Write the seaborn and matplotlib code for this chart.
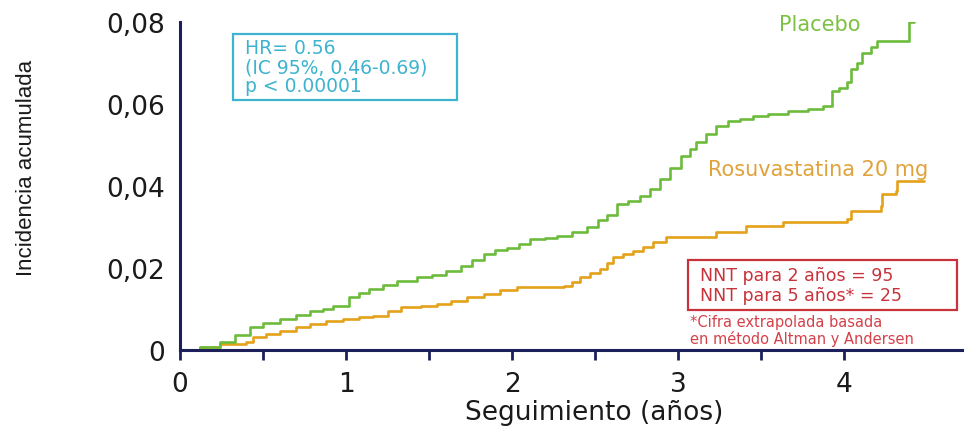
import numpy as np
import pandas as pd
import matplotlib
matplotlib.use("Agg")
import matplotlib.pyplot as plt
from matplotlib.patches import Rectangle
import seaborn as sns

# ---------------- data ----------------
placebo_t = [0, 0.12, 0.24, 0.33, 0.42, 0.5, 0.6, 0.7, 0.78, 0.86,
             0.92, 1.02, 1.08, 1.14, 1.22, 1.31, 1.43, 1.52, 1.6, 1.69,
             1.76, 1.83, 1.9, 1.97, 2.04, 2.11, 2.2, 2.27, 2.36, 2.45,
             2.52, 2.57, 2.63, 2.7, 2.77, 2.83, 2.89, 2.95, 3.02, 3.07,
             3.11, 3.17, 3.23, 3.3, 3.37, 3.45, 3.54, 3.66, 3.78, 3.87,
             3.93, 3.97, 4.02, 4.04, 4.08, 4.11, 4.16, 4.20, 4.39, 4.42]
placebo_v = [0, 0.0008, 0.002, 0.0036, 0.0056, 0.0066, 0.0076, 0.0086, 0.0095, 0.0101,
             0.0107, 0.0129, 0.0139, 0.0149, 0.0158, 0.0168, 0.0178, 0.0182, 0.0192, 0.0205,
             0.0220, 0.0234, 0.0243, 0.0250, 0.0259, 0.0270, 0.0274, 0.0278, 0.0288, 0.0300,
             0.0316, 0.0330, 0.0356, 0.0364, 0.0376, 0.0392, 0.0417, 0.0445, 0.0473, 0.0490,
             0.0508, 0.0528, 0.0547, 0.0558, 0.0564, 0.0570, 0.0576, 0.0582, 0.0588, 0.0596,
             0.0632, 0.0640, 0.0654, 0.0686, 0.0700, 0.0725, 0.0740, 0.0754, 0.0800, 0.0800]

rosu_t = [0, 0.12, 0.24, 0.4, 0.44, 0.52, 0.6, 0.7, 0.78, 0.88,
          0.98, 1.08, 1.16, 1.25, 1.33, 1.45, 1.55, 1.63, 1.73, 1.83,
          1.93, 2.03, 2.31, 2.36, 2.41, 2.47, 2.53, 2.57, 2.61, 2.67,
          2.73, 2.79, 2.85, 2.93, 3.01, 3.23, 3.41, 3.63, 4.02, 4.04,
          4.22, 4.23, 4.31, 4.32, 4.48]
rosu_v = [0, 0.0008, 0.0015, 0.002, 0.0032, 0.0038, 0.0046, 0.0055, 0.0063, 0.0070,
          0.0076, 0.0080, 0.0083, 0.0094, 0.0105, 0.0107, 0.0113, 0.0120, 0.0129, 0.0137,
          0.0146, 0.0154, 0.0156, 0.0166, 0.0178, 0.0188, 0.0198, 0.0212, 0.0227, 0.0235,
          0.0242, 0.0252, 0.0263, 0.0276, 0.0276, 0.0288, 0.0303, 0.0312, 0.0320, 0.0340,
          0.0351, 0.0380, 0.0388, 0.0412, 0.0412]

series_names = ["Placebo", "Rosuvastatina 20 mg"]
y_ticks = [0, 0.02, 0.04, 0.06, 0.08]
y_tick_labels = ["0", "0,02", "0,04", "0,06", "0,08"]
x_ticks = [0, 1, 2, 3, 4]
x_tick_labels = ["0", "1", "2", "3", "4"]
x_minor_ticks = [0.5, 1.5, 2.5, 3.5]

hr_lines = ["HR= 0.56", "(IC 95%, 0.46-0.69)", "p < 0.00001"]
nnt_lines = ["NNT para 2 años = 95", "NNT para 5 años* = 25"]
note_lines = ["*Cifra extrapolada basada", "en método Altman y Andersen"]

df = pd.concat([
    pd.DataFrame({"t": placebo_t, "v": placebo_v, "grupo": series_names[0]}),
    pd.DataFrame({"t": rosu_t, "v": rosu_v, "grupo": series_names[1]}),
], ignore_index=True)

# ---------------- style ----------------
sns.set_theme(style="white")
plt.rcParams["font.family"] = ["DejaVu Sans"]

W, H = 966, 435
fig = plt.figure(figsize=(W / 100, H / 100), dpi=100)
ax = fig.add_axes([180 / W, 84 / H, 782 / W, 328 / H])

green = "#6cbb3c"
orange = "#e3a21a"
navy = "#1c1f5a"

sns.lineplot(data=df, x="t", y="v", hue="grupo",
             palette={series_names[0]: green, series_names[1]: orange},
             hue_order=[series_names[1], series_names[0]],
             drawstyle="steps-post", estimator=None, sort=False,
             linewidth=1.9, legend=False, ax=ax)

ax.set_xlim(0, 4.71)
ax.set_ylim(0, 0.08)
for s in ["top", "right"]:
    ax.spines[s].set_visible(False)
for s in ["left", "bottom"]:
    ax.spines[s].set_color(navy)
    ax.spines[s].set_linewidth(2.2)

ax.set_yticks(y_ticks)
ax.set_yticklabels(y_tick_labels, fontsize=19, color="#1a1a1a")
ax.tick_params(axis="y", length=0, pad=11)

ax.set_xticks(x_ticks)
ax.set_xticklabels(x_tick_labels, fontsize=19, color="#1a1a1a")
ax.set_xticks(x_minor_ticks, minor=True)
ax.tick_params(axis="x", which="both", direction="out", length=7,
               width=2, color=navy, pad=8, bottom=True)

ax.set_xlabel("Seguimiento (años)", fontsize=19, color="#1a1a1a")
ax.xaxis.set_label_coords(0.53, -0.15)
ax.set_ylabel("Incidencia acumulada", fontsize=16, color="#1a1a1a",
              family=["Liberation Sans", "DejaVu Sans"])
ax.yaxis.set_label_coords(-0.183, 0.558)
ax.grid(False)

# ---------------- annotations ----------------
def fx(px):
    return px / W

def fy(py):
    return 1 - py / H

cyan = "#3db3cf"
fig.add_artist(Rectangle((fx(233), fy(101)), fx(457) - fx(233), fy(35) - fy(101),
                         transform=fig.transFigure, fill=False,
                         edgecolor=cyan, linewidth=1.6))
for yy, line in zip([49, 68, 87], hr_lines):
    fig.text(fx(245), fy(yy), line, fontsize=13.5, color=cyan,
             ha="left", va="center")

red = "#c8323a"
fig.add_artist(Rectangle((fx(688), fy(311)), fx(957) - fx(688), fy(261) - fy(311),
                         transform=fig.transFigure, fill=False,
                         edgecolor=red, linewidth=1.6))
for yy, line in zip([276, 296], nnt_lines):
    fig.text(fx(700), fy(yy), line, fontsize=12.5, color=red,
             ha="left", va="center")
for yy, line in zip([323, 339], note_lines):
    fig.text(fx(690), fy(yy), line, fontsize=10.5, color="#d4414a",
             ha="left", va="center")

fig.text(fx(820), fy(25), series_names[0], fontsize=15, color="#7cc143",
         ha="center", va="center")
fig.text(fx(708), fy(170), series_names[1], fontsize=15, color="#e0a33c",
         ha="left", va="center")

fig.savefig("out.png", dpi=100)
